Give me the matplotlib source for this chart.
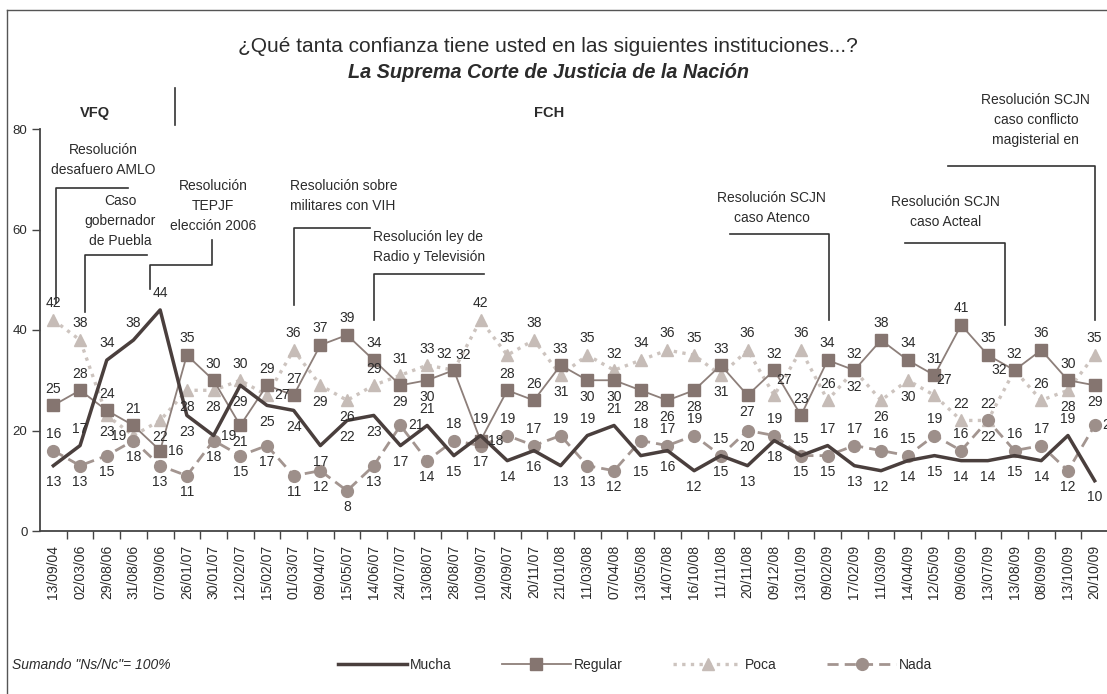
import matplotlib
matplotlib.use('Agg')
import matplotlib.pyplot as plt
from matplotlib.lines import Line2D

# ---------------- data ----------------
dates = ["13/09/04", "02/03/06", "29/08/06", "31/08/06", "07/09/06", "26/01/07",
         "30/01/07", "12/02/07", "15/02/07", "01/03/07", "09/04/07", "15/05/07",
         "14/06/07", "24/07/07", "13/08/07", "28/08/07", "10/09/07", "24/09/07",
         "20/11/07", "21/01/08", "11/03/08", "07/04/08", "13/05/08", "14/07/08",
         "16/10/08", "11/11/08", "20/11/08", "09/12/08", "13/01/09", "09/02/09",
         "17/02/09", "11/03/09", "14/04/09", "12/05/09", "09/06/09", "13/07/09",
         "13/08/09", "08/09/09", "13/10/09", "20/10/09"]

mucha = [13, 17, 34, 38, 44, 23, 19, 29, 25, 24, 17, 22, 23, 17, 21, 15, 19, 14, 16, 13,
         19, 21, 15, 16, 12, 15, 13, 18, 15, 17, 13, 12, 14, 15, 14, 14, 15, 14, 19, 10]
regular = [25, 28, 24, 21, 16, 35, 30, 21, 29, 27, 37, 39, 34, 29, 30, 32, 18, 28, 26, 33,
           30, 30, 28, 26, 28, 33, 27, 32, 23, 34, 32, 38, 34, 31, 41, 35, 32, 36, 30, 29]
poca = [42, 38, 23, 19, 22, 28, 28, 30, 27, 36, 29, 26, 29, 31, 33, 32, 42, 35, 38, 31,
        35, 32, 34, 36, 35, 31, 36, 27, 36, 26, 32, 26, 30, 27, 22, 22, 32, 26, 28, 35]
nada = [16, 13, 15, 18, 13, 11, 18, 15, 17, 11, 12, 8, 13, 21, 14, 18, 17, 19, 17, 19,
        13, 12, 18, 17, 19, 15, 20, 19, 15, 15, 17, 16, 15, 19, 16, 22, 16, 17, 12, 21]

series_names = ["Mucha", "Regular", "Poca", "Nada"]
yticks = [0, 20, 40, 60, 80]

title1 = "¿Qué tanta confianza tiene usted en las siguientes instituciones...?"
title2 = "La Suprema Corte de Justicia de la Nación"
note = "Sumando \"Ns/Nc\"= 100%"

# label placement codes (a=above, b=below, l=left, r=right, L=above-left, R=above-right)
pos_mucha = "baaaabrbbb" "bbbbababbb" "aabbbbbbba" "bbbbbbbbab"
pos_regular = "aaaaraabaa" "aaabbLraaa" "bbbbbabaaa" "aaaaaaaaab"
pos_poca = "aablbbbara" "bbaaaRaaab" "aaaaabaRaa" "bbbRaalaba"
pos_nada = "abbbbbbbbb" "bbbrbabaaa" "bbaaaabaab" "aaaaabaabr"

# annotations: text, x, y, ha, bracket path (category index, value)
annotations = [
    ("Resolución\ndesafuero AMLO", 1.87, 73.8, "center",
     [(2.8, 68.3), (0.1, 68.3), (0.1, 45.4)]),
    ("Caso\ngobernador\nde Puebla", 2.5, 61.7, "center",
     [(3.5, 54.9), (1.19, 54.9), (1.19, 43.6)]),
    ("Resolución\nTEPJF\nelección 2006", 5.98, 64.7, "center",
     [(5.93, 57.9), (5.93, 52.9), (3.62, 52.9), (3.62, 48.2)]),
    ("Resolución sobre\nmilitares con VIH", 8.86, 66.7, "left",
     [(11.85, 60.3), (9.0, 60.3), (9.0, 45.0)]),
    ("Resolución ley de\nRadio y Televisión", 11.97, 56.6, "left",
     [(16.13, 51.1), (12.0, 51.1), (12.0, 41.9)]),
    ("Resolución SCJN\ncaso Atenco", 26.9, 64.3, "center",
     [(25.34, 59.1), (29.06, 59.1), (29.06, 41.9)]),
    ("Resolución SCJN\ncaso Acteal", 33.4, 63.4, "center",
     [(31.9, 57.3), (35.64, 57.3), (35.64, 41.0)]),
    ("Resolución SCJN\ncaso conflicto\nmagisterial en", 36.8, 81.8, "center",
     [(33.5, 72.6), (39.0, 72.6), (39.0, 41.9)]),
]

# ---------------- style ----------------
FAM = ['Liberation Sans', 'DejaVu Sans']
plt.rcParams['font.family'] = FAM
TXT = '#2b2b2b'

c_mucha = '#4a3f3d'
c_regular = '#8d7f7a'
c_reg_mk = '#857570'
c_poca = '#cdc4bf'
c_poca_mk = '#c6bcb7'
c_nada = '#a39590'
c_nada_mk = '#9d8f8a'

W, H = 1107, 694
fig = plt.figure(figsize=(W / 100, H / 100), dpi=100)
fig.patch.set_facecolor('white')

# outer frame (only left and top visible in reference)
fig.add_artist(Line2D([7 / W, 7 / W], [0, 1 - 10 / H], transform=fig.transFigure,
                      color='#555555', lw=1.0))
fig.add_artist(Line2D([7 / W, 1], [1 - 10 / H, 1 - 10 / H], transform=fig.transFigure,
                      color='#555555', lw=1.0))

ax_l, ax_b = 40 / W, 1 - 531 / H
ax_w, ax_h = (1108 - 40) / W, (531 - 129) / H
ax = fig.add_axes([ax_l, ax_b, ax_w, ax_h])
ax.set_facecolor('none')

x = list(range(len(dates)))

ax.plot(x, poca, color=c_poca, lw=2.4, ls=(0, (1, 1.6)), marker='^', ms=9,
        mfc=c_poca_mk, mec=c_poca_mk, zorder=2, label="Poca")
ax.plot(x, nada, color=c_nada, lw=2.0, ls=(0, (4, 2.2)), marker='o', ms=8.5,
        mfc=c_nada_mk, mec=c_nada_mk, zorder=3, label="Nada")
ax.plot(x, regular, color=c_regular, lw=1.3, ls='-', marker='s', ms=8.5,
        mfc=c_reg_mk, mec=c_reg_mk, zorder=4, label="Regular")
ax.plot(x, mucha, color=c_mucha, lw=2.5, ls='-', zorder=5, label="Mucha")

offsets = {'a': (0, 12), 'b': (0, -12), 'l': (-11, 0), 'r': (11, 0),
           'L': (-7, 12), 'R': (7, 11)}
for vals, codes in [(mucha, pos_mucha), (regular, pos_regular),
                    (poca, pos_poca), (nada, pos_nada)]:
    for i, (v, c) in enumerate(zip(vals, codes)):
        dx, dy = offsets[c]
        ax.annotate(str(v), (i, v), xytext=(dx, dy), textcoords='offset points',
                    ha='center', va='center', fontsize=10, color=TXT, zorder=6,
                    annotation_clip=False)

ax.set_xlim(-0.5, len(dates) - 0.5)
ax.set_ylim(0, 80)
ax.set_yticks(yticks)
ax.set_yticklabels([str(t) for t in yticks], fontsize=9.5, color=TXT)
ax.set_xticks(x)
ax.set_xticklabels(dates, rotation=90, fontsize=10, color=TXT, va='top', ha='center')
ax.set_xticks([i + 0.5 for i in range(len(dates))], minor=True)
ax.tick_params(axis='x', which='major', length=0, pad=10)
ax.tick_params(axis='x', which='minor', length=6, width=1.0, color='#444444', direction='out')
ax.tick_params(axis='y', length=6, width=1.0, color='#444444', direction='out', pad=3)
for s in ['top', 'right']:
    ax.spines[s].set_visible(False)
for s in ['left', 'bottom']:
    ax.spines[s].set_color('#444444')
    ax.spines[s].set_linewidth(1.3)

# annotations with brackets
for txt, tx, ty, ha, path in annotations:
    ax.text(tx, ty, txt, ha=ha, va='center', fontsize=10, color=TXT,
            linespacing=1.55, clip_on=False)
    ax.plot([p[0] for p in path], [p[1] for p in path], color='#333333', lw=1.2,
            clip_on=False, zorder=1)

# period labels and divider
fig.text(95 / W, 1 - 113 / H, "VFQ", ha='center', va='center', fontsize=10.5,
         fontweight='bold', color=TXT)
fig.text(549 / W, 1 - 113 / H, "FCH", ha='center', va='center', fontsize=10.5,
         fontweight='bold', color=TXT)
fig.add_artist(Line2D([175 / W, 175 / W], [1 - 88 / H, 1 - 125 / H],
                      transform=fig.transFigure, color='#333333', lw=1.2))

# titles
fig.text(548 / W, 1 - 47 / H, title1, ha='center', va='center', fontsize=15,
         color=TXT)
fig.text(548 / W, 1 - 73 / H, title2, ha='center', va='center', fontsize=14.3,
         fontstyle='italic', fontweight='bold', color=TXT)

# footnote
fig.text(12 / W, 1 - 665 / H, note, ha='left', va='center', fontsize=10,
         fontstyle='italic', color=TXT)

# legend
handles = [
    Line2D([], [], color=c_mucha, lw=2.5),
    Line2D([], [], color=c_regular, lw=1.3, marker='s', ms=8.5, mfc=c_reg_mk, mec=c_reg_mk),
    Line2D([], [], color=c_poca, lw=2.4, ls=(0, (1, 1.6)), marker='^', ms=9,
           mfc=c_poca_mk, mec=c_poca_mk),
    Line2D([], [], color=c_nada, lw=2.0, ls=(0, (4, 2.2)), marker='o', ms=8.5,
           mfc=c_nada_mk, mec=c_nada_mk),
]
fig.legend(handles, series_names, loc='center', bbox_to_anchor=(635 / W, 1 - 665 / H),
           ncol=4, frameon=False, fontsize=10, handlelength=5.0, handletextpad=0.2,
           columnspacing=3.6, numpoints=1, labelcolor=TXT)

fig.savefig('out.png', dpi=100, facecolor='white')
